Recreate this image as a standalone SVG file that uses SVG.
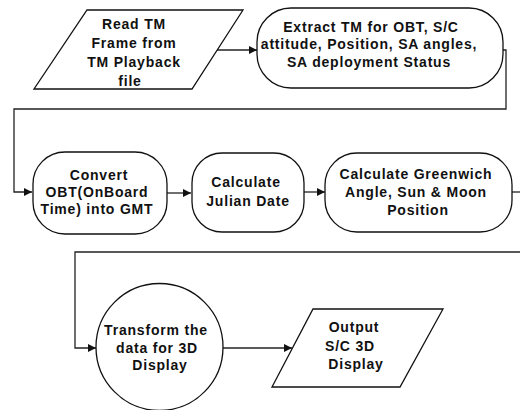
<svg xmlns="http://www.w3.org/2000/svg" width="520" height="410" viewBox="0 0 520 410">
  <defs>
    <marker id="arrow" viewBox="0 0 8 8" refX="8" refY="4" markerWidth="8" markerHeight="8" markerUnits="userSpaceOnUse" orient="auto">
      <path d="M0,0 L8,4 L0,8 Z" fill="#111"/>
    </marker>
  </defs>
  <style>
    .shape { fill: #fff; stroke: #111; stroke-width: 1.3; }
    .link { fill: none; stroke: #222; stroke-width: 1.3; }
    .label { font-family: "Liberation Sans", Arial, sans-serif; font-size: 14px; font-weight: bold; letter-spacing: 0.8px; fill: #111; text-anchor: middle; }
  </style>
  <rect width="520" height="410" fill="#fff"/>

  <!-- connectors -->
  <g id="connectors">
    <path class="link" d="M217,50 H257" marker-end="url(#arrow)"/>
    <path class="link" d="M503,50 H506 V109 H14 V192 H32" marker-end="url(#arrow)"/>
    <path class="link" d="M167,193 H191" marker-end="url(#arrow)"/>
    <path class="link" d="M304,192 H325" marker-end="url(#arrow)"/>
    <path class="link" d="M512,192 H520"/>
    <path class="link" d="M520,252 H75 V348 H96" marker-end="url(#arrow)"/>
    <path class="link" d="M223,348 H292" marker-end="url(#arrow)"/>
  </g>

  <!-- input: telemetry playback frame -->
  <g id="read-tm">
    <polygon class="shape" points="87,10 243,10 192,89 34,89"/>
    <text class="label" x="134" y="29">Read TM</text>
    <text class="label" x="134" y="48">Frame from</text>
    <text class="label" x="134" y="67">TM Playback</text>
    <text class="label" x="130" y="86">file</text>
  </g>

  <g id="extract-tm">
    <rect class="shape" x="257" y="8" width="246" height="80" rx="34" ry="34"/>
    <text class="label" x="371" y="32">Extract TM for OBT, S/C</text>
    <text class="label" x="369" y="49">attitude, Position, SA angles,</text>
    <text class="label" x="369" y="67">SA deployment Status</text>
  </g>

  <g id="convert-obt">
    <rect class="shape" x="33" y="152" width="134" height="82" rx="32" ry="32"/>
    <text class="label" x="99" y="180">Convert</text>
    <text class="label" x="97" y="197">OBT(OnBoard</text>
    <text class="label" x="97" y="214">Time) into GMT</text>
  </g>

  <g id="julian-date">
    <rect class="shape" x="192" y="153" width="112" height="79" rx="30" ry="30"/>
    <text class="label" x="246" y="187">Calculate</text>
    <text class="label" x="248" y="206">Julian Date</text>
  </g>

  <g id="greenwich-angle">
    <rect class="shape" x="325" y="153" width="187" height="79" rx="32" ry="32"/>
    <text class="label" x="416" y="179">Calculate Greenwich</text>
    <text class="label" x="416" y="197">Angle, Sun &amp; Moon</text>
    <text class="label" x="418" y="215">Position</text>
  </g>

  <g id="transform-3d">
    <circle class="shape" cx="159.5" cy="347" r="63.5"/>
    <text class="label" x="156" y="335">Transform the</text>
    <text class="label" x="157" y="353">data for 3D</text>
    <text class="label" x="160" y="370">Display</text>
  </g>

  <!-- output: 3D spacecraft display -->
  <g id="output-display">
    <polygon class="shape" points="313,309 443,309 400,387 272,387"/>
    <text class="label" x="354" y="332">Output</text>
    <text class="label" x="350" y="351">S/C 3D</text>
    <text class="label" x="356" y="369">Display</text>
  </g>
</svg>
